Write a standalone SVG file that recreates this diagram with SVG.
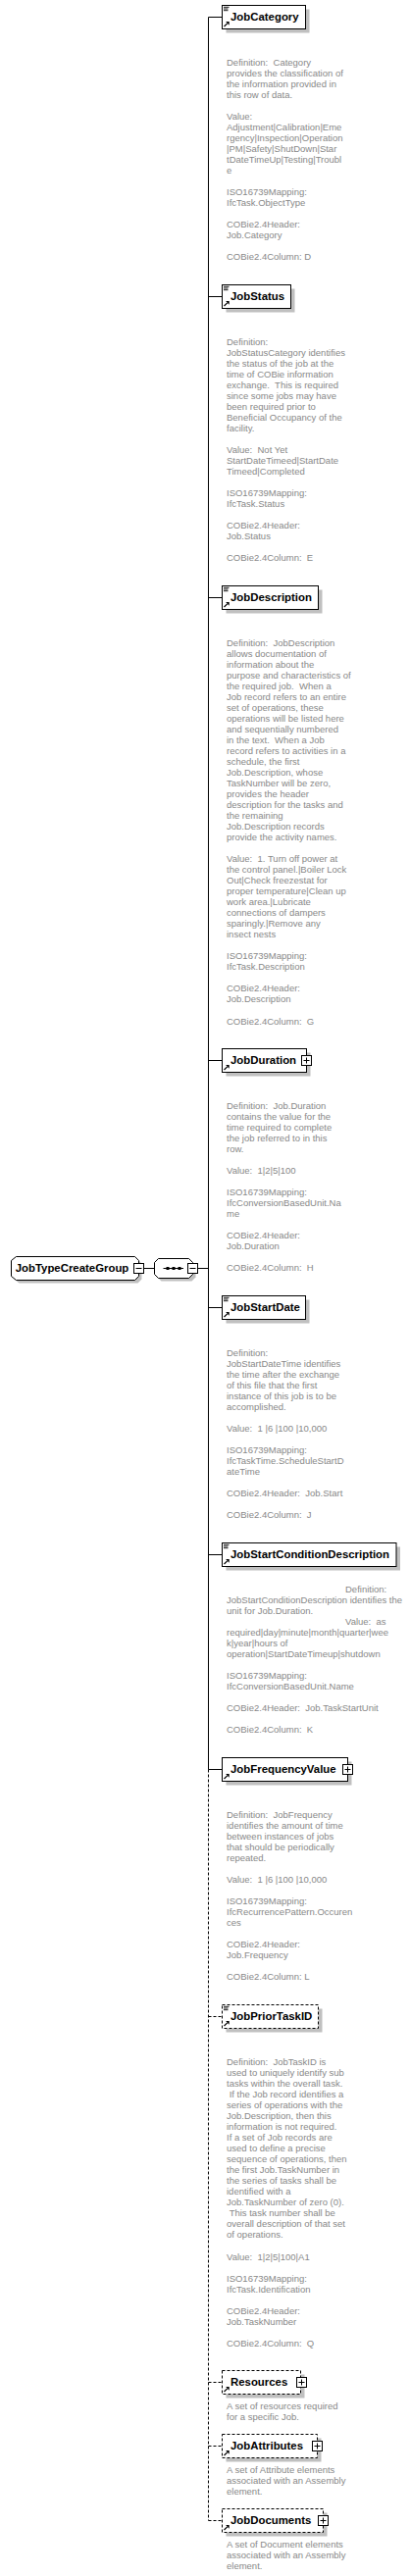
<svg xmlns="http://www.w3.org/2000/svg" width="418" height="2627" viewBox="0 0 418 2627">
<style>
.bx{fill:#fff;stroke:#000;stroke-width:1}
.opt{stroke-dasharray:3,2}
.sh{fill:#c0c0c0}
.nm{font-family:"Liberation Sans",Arial,sans-serif;font-size:11.4px;font-weight:bold;fill:#000}
.ds{font-family:"Liberation Sans",Arial,sans-serif;font-size:9.5px;fill:#888}
.ln{stroke:#000;stroke-width:1;fill:none}
.dash{stroke-dasharray:3,2}
</style>
<defs>
<g id="doc"><path d="M1.5 1.8h5.5M1.5 3.5h4.5M1.5 5.2h4.5" stroke="#000" stroke-width="0.9"/></g>
<g id="ref"><path d="M2 21.5L5.2 18.3" stroke="#000" stroke-width="1.2"/><path d="M3.6 16.6H7.2V20.2Z" fill="#000"/></g>
<g id="plus"><rect x="0.5" y="0.5" width="10" height="10" fill="#fff" stroke="#000"/><path d="M2.5 5.5h6M5.5 2.5v6" stroke="#000"/></g>
<g id="minus"><rect x="0.5" y="0.5" width="10" height="10" fill="#fff" stroke="#000"/><path d="M2.5 5.5h6" stroke="#000"/></g>
</defs>
<rect width="418" height="2627" fill="#fff"/>

<g id="connectors">
<path class="ln" d="M146.5 1293.5H157.5M201.5 1293.5H212.5"/>
<path class="ln" d="M212.5 17.5V1804.5"/>
<path class="ln dash" d="M212.5 1804.5V2570.5"/>
<path class="ln" d="M212.5 17.5H226.5M212.5 302.5H226.5M212.5 609.5H226.5M212.5 1081.5H226.5M212.5 1333.5H226.5M212.5 1585.5H226.5M212.5 1804.5H226.5"/>
<path class="ln dash" d="M212.5 2056.5H226.5M212.5 2429.5H226.5M212.5 2494.5H226.5M212.5 2570.5H226.5"/>
</g>

<g id="JobTypeCreateGroup">
<polygon class="sh" points="19.5,1284.5 140.5,1284.5 144.5,1288.5 144.5,1304.5 140.5,1308.5 19.5,1308.5 14.5,1304.5 14.5,1288.5"/>
<polygon class="bx" points="16.5,1281.5 137.5,1281.5 141.5,1285.5 141.5,1301.5 137.5,1305.5 16.5,1305.5 11.5,1301.5 11.5,1285.5"/>
<text class="nm" x="15.7" y="1297.2">JobTypeCreateGroup</text>
<use href="#minus" x="136" y="1288"/>
</g>

<g id="sequence">
<polygon class="sh" points="164.5,1286.5 195.5,1286.5 199.5,1290.5 199.5,1302.5 195.5,1306.5 164.5,1306.5 160.5,1302.5 160.5,1290.5"/>
<polygon class="bx" points="161.5,1283.5 192.5,1283.5 196.5,1287.5 196.5,1299.5 192.5,1303.5 161.5,1303.5 157.5,1299.5 157.5,1287.5"/>
<path class="ln" d="M166.5 1293.5H187"/>
<rect x="169.5" y="1292" width="3" height="3" fill="#000"/>
<rect x="175.5" y="1292" width="3" height="3" fill="#000"/>
<rect x="181.5" y="1292" width="3" height="3" fill="#000"/>
<use href="#minus" x="191" y="1288"/>
</g>

<g id="JobCategory">
<rect class="sh" x="230.5" y="9.5" width="85" height="24"/>
<rect class="bx" x="226.5" y="5.5" width="85" height="24"/>
<use href="#doc" x="226.5" y="5.5"/><use href="#ref" x="226.5" y="5.5"/>
<text class="nm" x="235" y="21.1">JobCategory</text>
<text class="ds"><tspan x="231" y="66.8">Definition: &#160;Category</tspan><tspan x="231" dy="11.03">provides the classification of</tspan><tspan x="231" dy="11.03">the information provided in</tspan><tspan x="231" dy="11.03">this row of data.</tspan><tspan x="231" dy="22.06">Value:</tspan><tspan x="231" dy="11.03">Adjustment|Calibration|Eme</tspan><tspan x="231" dy="11.03">rgency|Inspection|Operation</tspan><tspan x="231" dy="11.03">|PM|Safety|ShutDown|Star</tspan><tspan x="231" dy="11.03">tDateTimeUp|Testing|Troubl</tspan><tspan x="231" dy="11.03">e</tspan><tspan x="231" dy="22.06">ISO16739Mapping:</tspan><tspan x="231" dy="11.03">IfcTask.ObjectType</tspan><tspan x="231" dy="22.06">COBie2.4Header:</tspan><tspan x="231" dy="11.03">Job.Category</tspan><tspan x="231" dy="22.06">COBie2.4Column: D</tspan></text>
</g>

<g id="JobStatus">
<rect class="sh" x="230.5" y="294.5" width="70" height="24"/>
<rect class="bx" x="226.5" y="290.5" width="70" height="24"/>
<use href="#doc" x="226.5" y="290.5"/><use href="#ref" x="226.5" y="290.5"/>
<text class="nm" x="235" y="306.1">JobStatus</text>
<text class="ds"><tspan x="231" y="351.8">Definition:</tspan><tspan x="231" dy="11.03">JobStatusCategory identifies</tspan><tspan x="231" dy="11.03">the status of the job at the</tspan><tspan x="231" dy="11.03">time of COBie information</tspan><tspan x="231" dy="11.03">exchange. &#160;This is required</tspan><tspan x="231" dy="11.03">since some jobs may have</tspan><tspan x="231" dy="11.03">been required prior to</tspan><tspan x="231" dy="11.03">Beneficial Occupancy of the</tspan><tspan x="231" dy="11.03">facility.</tspan><tspan x="231" dy="22.06">Value: &#160;Not Yet</tspan><tspan x="231" dy="11.03">StartDateTimeed|StartDate</tspan><tspan x="231" dy="11.03">Timeed|Completed</tspan><tspan x="231" dy="22.06">ISO16739Mapping:</tspan><tspan x="231" dy="11.03">IfcTask.Status</tspan><tspan x="231" dy="22.06">COBie2.4Header:</tspan><tspan x="231" dy="11.03">Job.Status</tspan><tspan x="231" dy="22.06">COBie2.4Column: &#160;E</tspan></text>
</g>

<g id="JobDescription">
<rect class="sh" x="230.5" y="601.5" width="98" height="24"/>
<rect class="bx" x="226.5" y="597.5" width="98" height="24"/>
<use href="#doc" x="226.5" y="597.5"/><use href="#ref" x="226.5" y="597.5"/>
<text class="nm" x="235" y="613.1">JobDescription</text>
<text class="ds"><tspan x="231" y="658.5">Definition: &#160;JobDescription</tspan><tspan x="231" dy="11.03">allows documentation of</tspan><tspan x="231" dy="11.03">information about the</tspan><tspan x="231" dy="11.03">purpose and characteristics of</tspan><tspan x="231" dy="11.03">the required job. &#160;When a</tspan><tspan x="231" dy="11.03">Job record refers to an entire</tspan><tspan x="231" dy="11.03">set of operations, these</tspan><tspan x="231" dy="11.03">operations will be listed here</tspan><tspan x="231" dy="11.03">and sequentially numbered</tspan><tspan x="231" dy="11.03">in the text. &#160;When a Job</tspan><tspan x="231" dy="11.03">record refers to activities in a</tspan><tspan x="231" dy="11.03">schedule, the first</tspan><tspan x="231" dy="11.03">Job.Description, whose</tspan><tspan x="231" dy="11.03">TaskNumber will be zero,</tspan><tspan x="231" dy="11.03">provides the header</tspan><tspan x="231" dy="11.03">description for the tasks and</tspan><tspan x="231" dy="11.03">the remaining</tspan><tspan x="231" dy="11.03">Job.Description records</tspan><tspan x="231" dy="11.03">provide the activity names.</tspan><tspan x="231" dy="22.06">Value: &#160;1. Turn off power at</tspan><tspan x="231" dy="11.03">the control panel.|Boiler Lock</tspan><tspan x="231" dy="11.03">Out|Check freezestat for</tspan><tspan x="231" dy="11.03">proper temperature|Clean up</tspan><tspan x="231" dy="11.03">work area.|Lubricate</tspan><tspan x="231" dy="11.03">connections of dampers</tspan><tspan x="231" dy="11.03">sparingly.|Remove any</tspan><tspan x="231" dy="11.03">insect nests</tspan><tspan x="231" dy="22.06">ISO16739Mapping:</tspan><tspan x="231" dy="11.03">IfcTask.Description</tspan><tspan x="231" dy="22.06">COBie2.4Header:</tspan><tspan x="231" dy="11.03">Job.Description</tspan><tspan x="231" dy="22.06">COBie2.4Column: &#160;G</tspan></text>
</g>

<g id="JobDuration">
<rect class="sh" x="230.5" y="1073.5" width="86" height="24"/>
<rect class="bx" x="226.5" y="1069.5" width="86" height="24"/>
<use href="#ref" x="226.5" y="1069.5"/>
<text class="nm" x="235" y="1085.1">JobDuration</text>
<use href="#plus" x="307" y="1076"/>
<text class="ds"><tspan x="231" y="1131">Definition: &#160;Job.Duration</tspan><tspan x="231" dy="11.03">contains the value for the</tspan><tspan x="231" dy="11.03">time required to complete</tspan><tspan x="231" dy="11.03">the job referred to in this</tspan><tspan x="231" dy="11.03">row.</tspan><tspan x="231" dy="22.06">Value: &#160;1|2|5|100</tspan><tspan x="231" dy="22.06">ISO16739Mapping:</tspan><tspan x="231" dy="11.03">IfcConversionBasedUnit.Na</tspan><tspan x="231" dy="11.03">me</tspan><tspan x="231" dy="22.06">COBie2.4Header:</tspan><tspan x="231" dy="11.03">Job.Duration</tspan><tspan x="231" dy="22.06">COBie2.4Column: &#160;H</tspan></text>
</g>

<g id="JobStartDate">
<rect class="sh" x="230.5" y="1325.5" width="85" height="24"/>
<rect class="bx" x="226.5" y="1321.5" width="85" height="24"/>
<use href="#doc" x="226.5" y="1321.5"/><use href="#ref" x="226.5" y="1321.5"/>
<text class="nm" x="235" y="1337.1">JobStartDate</text>
<text class="ds"><tspan x="231" y="1383">Definition:</tspan><tspan x="231" dy="11.03">JobStartDateTime identifies</tspan><tspan x="231" dy="11.03">the time after the exchange</tspan><tspan x="231" dy="11.03">of this file that the first</tspan><tspan x="231" dy="11.03">instance of this job is to be</tspan><tspan x="231" dy="11.03">accomplished.</tspan><tspan x="231" dy="22.06">Value: &#160;1 |6 |100 |10,000</tspan><tspan x="231" dy="22.06">ISO16739Mapping:</tspan><tspan x="231" dy="11.03">IfcTaskTime.ScheduleStartD</tspan><tspan x="231" dy="11.03">ateTime</tspan><tspan x="231" dy="22.06">COBie2.4Header: &#160;Job.Start</tspan><tspan x="231" dy="22.06">COBie2.4Column: &#160;J</tspan></text>
</g>

<g id="JobStartConditionDescription">
<rect class="sh" x="230.5" y="1577.5" width="177.5" height="24"/>
<rect class="bx" x="226.5" y="1573.5" width="177.5" height="24"/>
<use href="#doc" x="226.5" y="1573.5"/><use href="#ref" x="226.5" y="1573.5"/>
<text class="nm" x="235" y="1589.1">JobStartConditionDescription</text>
<text class="ds"><tspan x="352" y="1623.5">Definition:</tspan><tspan x="231" dy="11.03">JobStartConditionDescription identifies the</tspan><tspan x="231" dy="11.03">unit for Job.Duration.</tspan><tspan x="352" dy="11.03">Value: &#160;as</tspan><tspan x="231" dy="11.03">required|day|minute|month|quarter|wee</tspan><tspan x="231" dy="11.03">k|year|hours of</tspan><tspan x="231" dy="11.03">operation|StartDateTimeup|shutdown</tspan><tspan x="231" dy="22.06">ISO16739Mapping:</tspan><tspan x="231" dy="11.03">IfcConversionBasedUnit.Name</tspan><tspan x="231" dy="22.06">COBie2.4Header: &#160;Job.TaskStartUnit</tspan><tspan x="231" dy="22.06">COBie2.4Column: &#160;K</tspan></text>
</g>

<g id="JobFrequencyValue">
<rect class="sh" x="230.5" y="1796.5" width="128" height="24"/>
<rect class="bx" x="226.5" y="1792.5" width="128" height="24"/>
<use href="#ref" x="226.5" y="1792.5"/>
<text class="nm" x="235" y="1808.1">JobFrequencyValue</text>
<use href="#plus" x="349" y="1799"/>
<text class="ds"><tspan x="231" y="1853.8">Definition: &#160;JobFrequency</tspan><tspan x="231" dy="11.03">identifies the amount of time</tspan><tspan x="231" dy="11.03">between instances of jobs</tspan><tspan x="231" dy="11.03">that should be periodically</tspan><tspan x="231" dy="11.03">repeated.</tspan><tspan x="231" dy="22.06">Value: &#160;1 |6 |100 |10,000</tspan><tspan x="231" dy="22.06">ISO16739Mapping:</tspan><tspan x="231" dy="11.03">IfcRecurrencePattern.Occuren</tspan><tspan x="231" dy="11.03">ces</tspan><tspan x="231" dy="22.06">COBie2.4Header:</tspan><tspan x="231" dy="11.03">Job.Frequency</tspan><tspan x="231" dy="22.06">COBie2.4Column: L</tspan></text>
</g>

<g id="JobPriorTaskID">
<rect class="sh" x="230.5" y="2048.5" width="98" height="24"/>
<rect class="bx opt" x="226.5" y="2044.5" width="98" height="24"/>
<use href="#doc" x="226.5" y="2044.5"/><use href="#ref" x="226.5" y="2044.5"/>
<text class="nm" x="235" y="2060.1">JobPriorTaskID</text>
<text class="ds"><tspan x="231" y="2106">Definition: &#160;JobTaskID is</tspan><tspan x="231" dy="11.03">used to uniquely identify sub</tspan><tspan x="231" dy="11.03">tasks within the overall task.</tspan><tspan x="231" dy="11.03">&#160;If the Job record identifies a</tspan><tspan x="231" dy="11.03">series of operations with the</tspan><tspan x="231" dy="11.03">Job.Description, then this</tspan><tspan x="231" dy="11.03">information is not required.</tspan><tspan x="231" dy="11.03">If a set of Job records are</tspan><tspan x="231" dy="11.03">used to define a precise</tspan><tspan x="231" dy="11.03">sequence of operations, then</tspan><tspan x="231" dy="11.03">the first Job.TaskNumber in</tspan><tspan x="231" dy="11.03">the series of tasks shall be</tspan><tspan x="231" dy="11.03">identified with a</tspan><tspan x="231" dy="11.03">Job.TaskNumber of zero (0).</tspan><tspan x="231" dy="11.03">&#160;This task number shall be</tspan><tspan x="231" dy="11.03">overall description of that set</tspan><tspan x="231" dy="11.03">of operations.</tspan><tspan x="231" dy="22.06">Value: &#160;1|2|5|100|A1</tspan><tspan x="231" dy="22.06">ISO16739Mapping:</tspan><tspan x="231" dy="11.03">IfcTask.Identification</tspan><tspan x="231" dy="22.06">COBie2.4Header:</tspan><tspan x="231" dy="11.03">Job.TaskNumber</tspan><tspan x="231" dy="22.06">COBie2.4Column: &#160;Q</tspan></text>
</g>

<g id="Resources">
<rect class="sh" x="230.5" y="2421.5" width="80" height="24"/>
<rect class="bx opt" x="226.5" y="2417.5" width="80" height="24"/>
<use href="#ref" x="226.5" y="2417.5"/>
<text class="nm" x="235" y="2433.1">Resources</text>
<use href="#plus" x="302" y="2424"/>
<text class="ds"><tspan x="231" y="2456.8">A set of resources required</tspan><tspan x="231" dy="11.03">for a specific Job.</tspan></text>
</g>

<g id="JobAttributes">
<rect class="sh" x="230.5" y="2486.5" width="97" height="24"/>
<rect class="bx opt" x="226.5" y="2482.5" width="97" height="24"/>
<use href="#ref" x="226.5" y="2482.5"/>
<text class="nm" x="235" y="2498.1">JobAttributes</text>
<use href="#plus" x="318" y="2489"/>
<text class="ds"><tspan x="231" y="2521.8">A set of Attribute elements</tspan><tspan x="231" dy="11.03">associated with an Assembly</tspan><tspan x="231" dy="11.03">element.</tspan></text>
</g>

<g id="JobDocuments">
<rect class="sh" x="230.5" y="2562.5" width="103" height="24"/>
<rect class="bx opt" x="226.5" y="2558.5" width="103" height="24"/>
<use href="#ref" x="226.5" y="2558.5"/>
<text class="nm" x="235" y="2574.1">JobDocuments</text>
<use href="#plus" x="324" y="2565"/>
<text class="ds"><tspan x="231" y="2598.2">A set of Document elements</tspan><tspan x="231" dy="11.03">associated with an Assembly</tspan><tspan x="231" dy="11.03">element.</tspan></text>
</g>
</svg>
